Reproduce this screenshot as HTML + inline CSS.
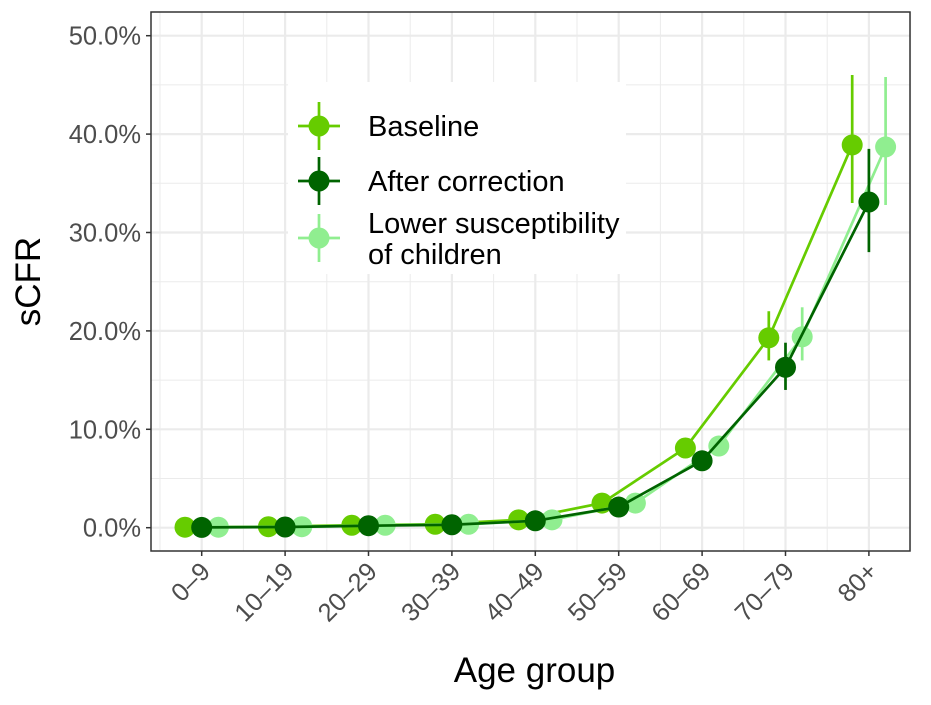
<!DOCTYPE html>
<html><head><meta charset="utf-8"><style>
body{margin:0;background:#fff}
text{font-family:"Liberation Sans",sans-serif}
</style></head><body>
<svg id="chart" width="931" height="700" xmlns="http://www.w3.org/2000/svg">
<g id="grid"></g><g id="marks"></g><g id="axes"></g><g id="legend"></g>
</svg>
<script>
const categories=["0–9","10–19","20–29","30–39","40–49","50–59","60–69","70–79","80+"];
const seriesNames=["Baseline","After correction","Lower susceptibility of children"];
const baseline=[0.05,0.1,0.25,0.35,0.8,2.5,8.1,19.3,38.9];
const baselineLo=[0,0,0.15,0.25,0.6,2.1,7.3,17.0,33.0];
const baselineHi=[0.1,0.2,0.35,0.45,1.0,2.9,8.9,22.0,46.0];
const after=[0.03,0.07,0.2,0.3,0.7,2.1,6.8,16.3,33.1];
const afterLo=[0,0,0.12,0.2,0.5,1.8,6.1,14.0,28.0];
const afterHi=[0.08,0.15,0.3,0.4,0.9,2.5,7.5,18.8,38.5];
const lower=[0.05,0.1,0.25,0.35,0.8,2.5,8.3,19.4,38.7];
const lowerLo=[0,0,0.15,0.25,0.6,2.1,7.4,17.0,32.8];
const lowerHi=[0.1,0.2,0.35,0.45,1.0,2.9,9.1,22.4,45.8];
const yTicks=[0,10,20,30,40,50];
const yTickLabels=["0.0%","10.0%","20.0%","30.0%","40.0%","50.0%"];
const NS="http://www.w3.org/2000/svg";
const L=151,R=910,T=12,B=551;
const y=v=>527.7-v*9.84;
const x=i=>201.7+i*83.4;
function mk(p,t,a){const e=document.createElementNS(NS,t);for(const k in a)e.setAttribute(k,a[k]);p.appendChild(e);return e;}
const grid=document.getElementById('grid'),marks=document.getElementById('marks'),axes=document.getElementById('axes'),leg=document.getElementById('legend');
mk(grid,'rect',{x:L,y:T,width:R-L,height:B-T,fill:'#fff'});
for(let k=0;k<yTicks.length-1;k++){const g=mk(grid,'line',{x1:L,x2:R,y1:y(yTicks[k]+5),y2:y(yTicks[k]+5),stroke:'#ebebeb','stroke-width':1});
}
yTicks.forEach(v=>{const g=mk(grid,'line',{x1:L,x2:R,y1:y(v),y2:y(v),stroke:'#ebebeb','stroke-width':2.2});
});
for(let i=0;i<categories.length;i++){const g=mk(grid,'line',{x1:x(i),x2:x(i),y1:T,y2:B,stroke:'#ebebeb','stroke-width':2.2});
const m=mk(grid,'line',{x1:x(i+0.5),x2:x(i+0.5),y1:T,y2:B,stroke:'#ebebeb','stroke-width':1});}
const m0=mk(grid,'line',{x1:x(-0.5),x2:x(-0.5),y1:T,y2:B,stroke:'#ebebeb','stroke-width':1});
const series=[[baseline,baselineLo,baselineHi,'#66cc00',-16.7,'baseline'],[lower,lowerLo,lowerHi,'#90ee90',16.7,'lower-susceptibility'],[after,afterLo,afterHi,'#006400',0,'after-correction']];
series.forEach(([v,lo,hi,c,o,n])=>{
 const pl=mk(marks,'polyline',{points:v.map((d,i)=>(x(i)+o)+','+y(d)).join(' '),fill:'none',stroke:c,'stroke-width':2.7});
 
 v.forEach((d,i)=>{const e=mk(marks,'line',{x1:x(i)+o,x2:x(i)+o,y1:y(lo[i]),y2:y(hi[i]),stroke:c,'stroke-width':2.7});
 
 const p=mk(marks,'circle',{cx:x(i)+o,cy:y(d),r:10.5,fill:c});
 });
});
mk(axes,'rect',{x:L,y:T,width:R-L,height:B-T,fill:'none',stroke:'#333','stroke-width':1.5});
yTicks.forEach((v,k)=>{mk(axes,'line',{x1:L-5,x2:L,y1:y(v),y2:y(v),stroke:'#333','stroke-width':1.5});
 const t=mk(axes,'text',{x:L-10,y:y(v)+9,'text-anchor':'end','font-size':25.5,fill:'#4d4d4d'});t.textContent=yTickLabels[k];
 });
categories.forEach((c,i)=>{mk(axes,'line',{x1:x(i),x2:x(i),y1:B,y2:B+5,stroke:'#333','stroke-width':1.5});
 const t=mk(axes,'text',{x:x(i)+10,y:B+22,'text-anchor':'end','font-size':25.5,fill:'#4d4d4d',transform:`rotate(-45 ${x(i)+10} ${B+22})`});t.textContent=c;
 });
const xt=mk(axes,'text',{x:(L+R)/2+4,y:682,'text-anchor':'middle','font-size':35,fill:'#000'});xt.textContent='Age group';

const yt=mk(axes,'text',{x:40,y:(T+B)/2,'text-anchor':'middle','font-size':35,fill:'#000',transform:`rotate(-90 40 ${(T+B)/2})`});yt.textContent='sCFR';

mk(leg,'rect',{x:288,y:82,width:338,height:192,fill:'#fff'});
const lk=[['#66cc00',126,['Baseline']],['#006400',181,['After correction']],['#90ee90',238,['Lower susceptibility','of children']]];
lk.forEach(([c,cy,lines],k)=>{
 const g=mk(leg,'g',{});
 mk(g,'line',{x1:298,x2:340,y1:cy,y2:cy,stroke:c,'stroke-width':2.7});
 mk(g,'line',{x1:319,x2:319,y1:cy-24,y2:cy+24,stroke:c,'stroke-width':2.7});
 mk(g,'circle',{cx:319,cy:cy,r:10.5,fill:c});
 lines.forEach((s,j)=>{const t=mk(g,'text',{x:368,y:cy+10+(lines.length>1?(j*31-15):0),'font-size':29,fill:'#000'});t.textContent=s;});
});
</script>
</body></html>
